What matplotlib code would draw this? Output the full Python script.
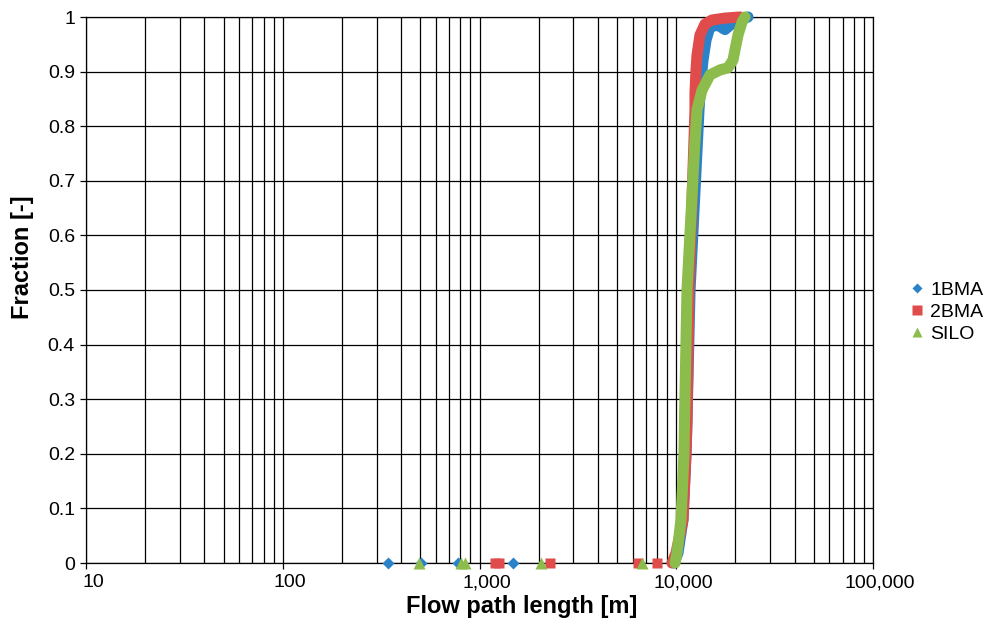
import matplotlib
matplotlib.use('Agg')
import matplotlib.pyplot as plt
from matplotlib.lines import Line2D
from matplotlib.ticker import FixedLocator, NullFormatter
from matplotlib.transforms import ScaledTranslation

plt.rcParams['font.family'] = ['Liberation Sans', 'DejaVu Sans']

series_names = ['1BMA', '2BMA', 'SILO']
colors = ['#2a82c9', '#e04b4b', '#8cbd4c']
markers = ['D', 's', '^']

# isolated particles at ~zero fraction
bma1_iso_x = [343, 505, 778, 1480]
bma1_iso_y = [0, 0, 0, 0]
bma2_iso_x = [1199, 1256, 2280, 6400, 7980]
bma2_iso_y = [0, 0, 0, 0, 0]
silo_iso_x = [493, 810, 843, 2057, 6700]
silo_iso_y = [0, 0, 0, 0, 0]

# main cumulative curves
bma1_x = [9740, 10200, 10820, 11210, 11340, 11750, 12750, 13050, 13360, 13680,
          14170, 14845, 16300, 17690, 18760, 20600, 23160]
bma1_y = [0, 0.018, 0.079, 0.201, 0.262, 0.5, 0.756, 0.83, 0.885, 0.921,
          0.958, 0.982, 0.985, 0.977, 0.985, 0.993, 1.0]

bma2_x = [9510, 9970, 10820, 11210, 11340, 11610, 12310, 12455, 12455, 12600,
          12750, 13200, 14000, 15190, 17690, 21090]
bma2_y = [0, 0.018, 0.079, 0.201, 0.262, 0.5, 0.775, 0.83, 0.861, 0.903,
          0.930, 0.967, 0.987, 0.9945, 0.998, 1.0]

silo_x = [9855, 10087, 10570, 10950, 11015, 11340, 12455, 12750, 13520, 14845,
          16680, 18320, 19430, 19890, 20600, 21600, 22380]
silo_y = [0, 0.018, 0.079, 0.201, 0.262, 0.5, 0.775, 0.830, 0.866, 0.894,
          0.903, 0.907, 0.921, 0.940, 0.967, 0.991, 1.0]

x_ticks = [10, 100, 1000, 10000, 100000]
x_tick_labels = ['10', '100', '1,000', '10,000', '100,000']
y_ticks = [0, 0.1, 0.2, 0.3, 0.4, 0.5, 0.6, 0.7, 0.8, 0.9, 1.0]
y_tick_labels = ['0', '0.1', '0.2', '0.3', '0.4', '0.5', '0.6', '0.7', '0.8', '0.9', '1']

fig = plt.figure(figsize=(9.88, 6.28), dpi=100)
ax = fig.add_axes([86/988, 1-563/628, 787/988, 546/628])

ax.set_xscale('log')
ax.set_xlim(10, 100000)
ax.set_ylim(0, 1)

ax.xaxis.set_major_locator(FixedLocator(x_ticks))
ax.set_xticklabels(x_tick_labels)
minor = [m * d for d in [10, 100, 1000, 10000] for m in range(2, 10)]
ax.xaxis.set_minor_locator(FixedLocator(minor))
ax.xaxis.set_minor_formatter(NullFormatter())
ax.set_yticks(y_ticks)
ax.set_yticklabels(y_tick_labels)

ax.grid(True, which='major', color='black', lw=0.9)
ax.grid(True, which='minor', axis='x', color='black', lw=0.9)
ax.set_axisbelow(True)
ax.tick_params(which='major', length=4, width=0.9, labelsize=14, colors='black', pad=4)
ax.tick_params(which='minor', length=0)
for s in ax.spines.values():
    s.set_color('black')
    s.set_linewidth(0.9)

shift = ScaledTranslation(7/100, 0, fig.dpi_scale_trans)
for lab in ax.get_xticklabels():
    lab.set_transform(lab.get_transform() + shift)

lw = 8.0
curves = [(bma1_x, bma1_y), (bma2_x, bma2_y), (silo_x, silo_y)]
isos = [(bma1_iso_x, bma1_iso_y), (bma2_iso_x, bma2_iso_y), (silo_iso_x, silo_iso_y)]
msizes = [6.3, 7.3, 8.3]
for i in range(3):
    cx, cy = curves[i]
    ax.plot(cx, cy, color=colors[i], lw=lw, solid_capstyle='round',
            solid_joinstyle='round', zorder=3 + i, clip_on=False)
    ix, iy = isos[i]
    ax.plot(ix, iy, linestyle='none', marker=markers[i], ms=msizes[i],
            color=colors[i], mec='none', zorder=3 + i, clip_on=False)

ax.set_xlabel('Flow path length [m]', fontsize=17, fontweight='bold')
ax.xaxis.set_label_coords(0.554, -0.058)
ax.set_ylabel('Fraction [-]', fontsize=17, fontweight='bold')
ax.yaxis.set_label_coords(-0.066, 0.56)

handles = [Line2D([], [], linestyle='none', marker=markers[i], ms=[5.5, 6.5, 7.5][i],
                  color=colors[i], mec='none') for i in range(3)]
ax.legend(handles, series_names, loc='center left', bbox_to_anchor=(1.033, 0.459),
          frameon=False, fontsize=14, handlelength=0.9, handletextpad=0.2,
          labelspacing=0.22, borderpad=0)

fig.savefig('out.png', dpi=100)
